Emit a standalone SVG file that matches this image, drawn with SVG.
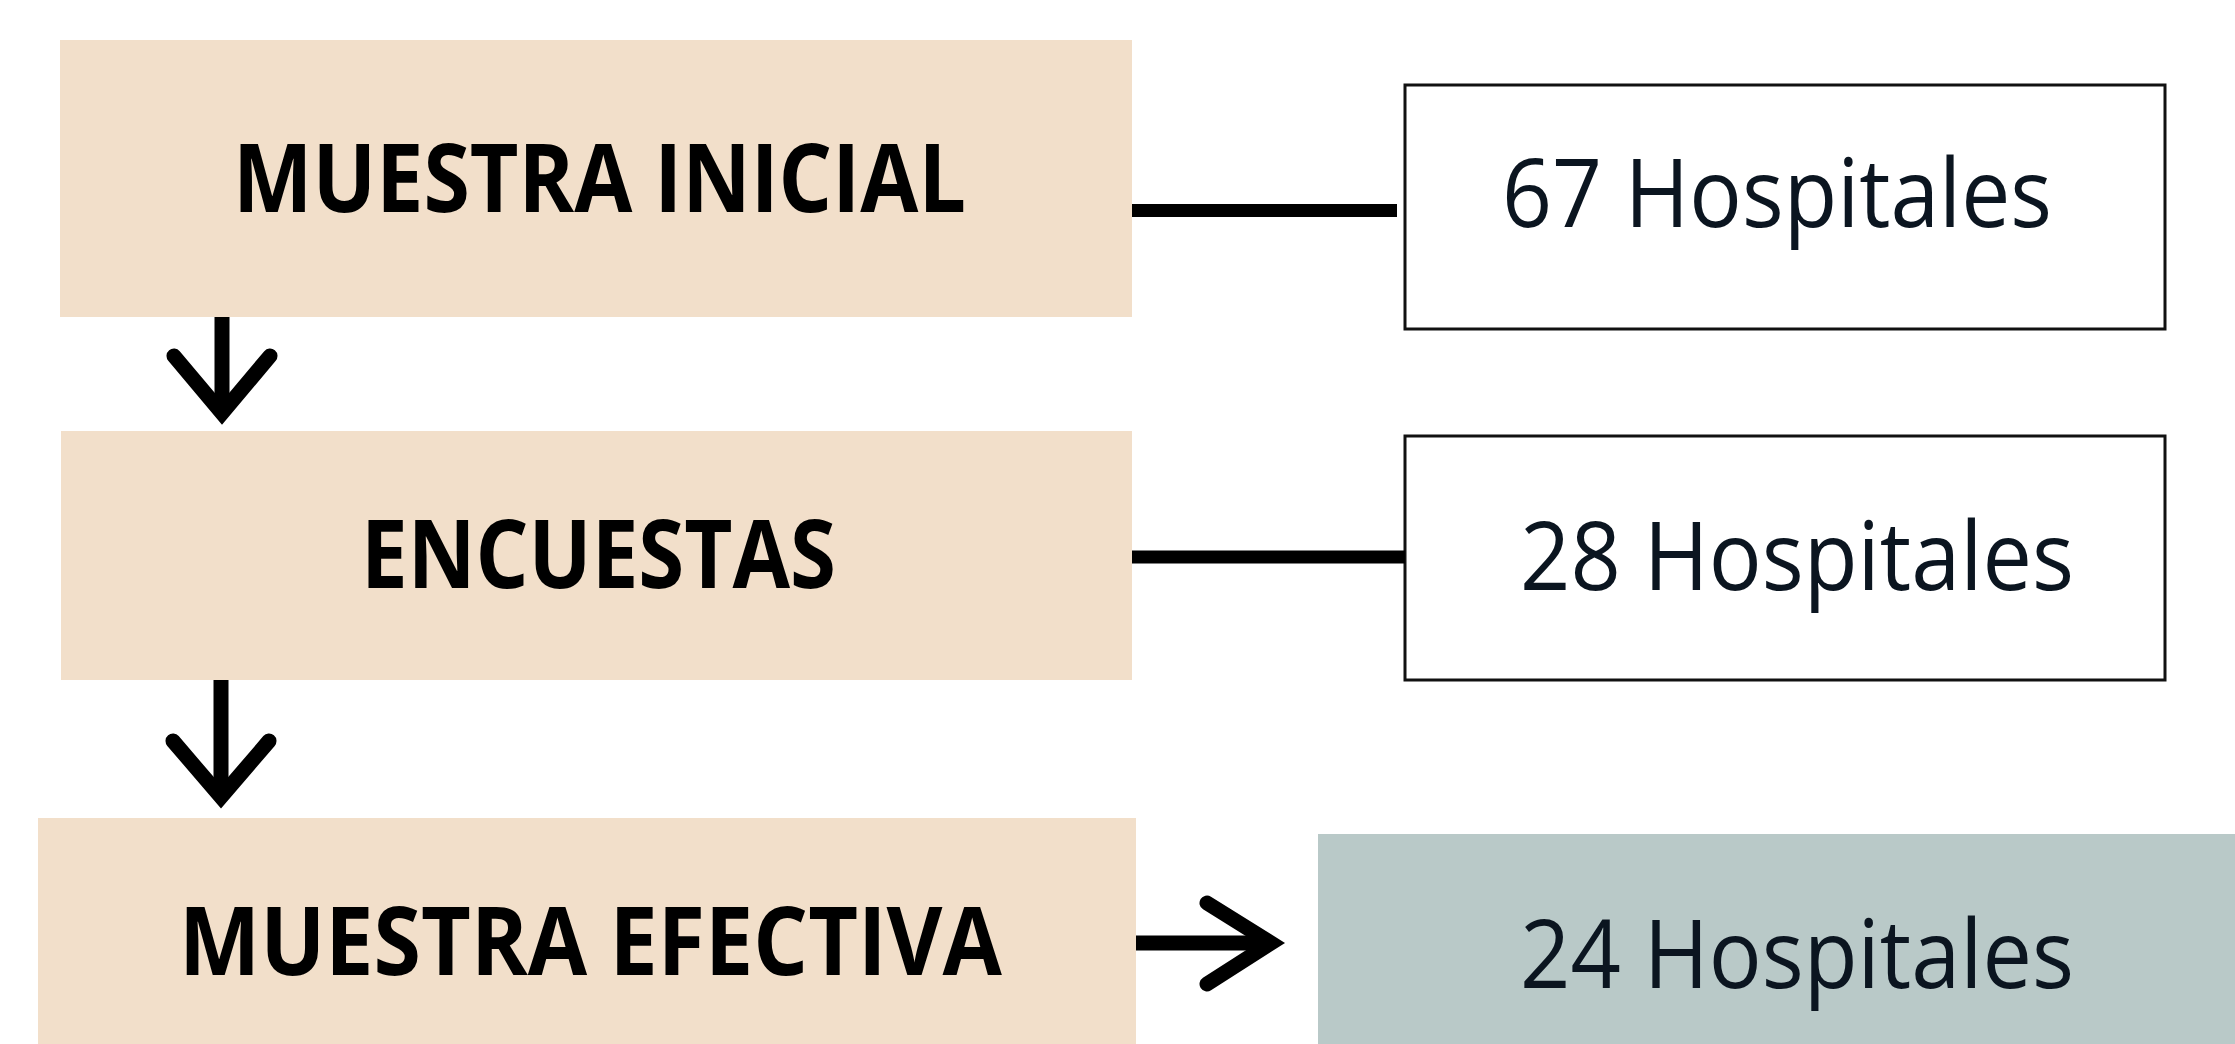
<svg xmlns="http://www.w3.org/2000/svg" width="2235" height="1044" viewBox="0 0 2235 1044">
<style>
.stage{fill:#f2dfca}
.count{fill:#ffffff;stroke:#111111;stroke-width:3}
.result{fill:#b9c9c8}
.lbl{font-family:"Open Sans","Noto Sans","Liberation Sans",sans-serif;font-weight:700;font-size:95px;fill:#000000}
.num{font-family:"Open Sans","Noto Sans","Liberation Sans",sans-serif;font-weight:400;font-size:95px;fill:#0b1520}
.ln{stroke:#000000;fill:none;stroke-width:13}
.ar{stroke:#000000;fill:none;stroke-width:15;stroke-linejoin:miter;stroke-linecap:round}
</style>
<rect width="2235" height="1044" fill="#ffffff"/>
<g id="node-muestra-inicial">
<rect class="stage" x="60" y="40" width="1072" height="277"/>
<text class="lbl" x="233" y="212" textLength="733" lengthAdjust="spacingAndGlyphs">MUESTRA INICIAL</text>
</g>
<g id="node-encuestas">
<rect class="stage" x="61" y="431" width="1071" height="249"/>
<text class="lbl" x="361" y="588" textLength="475" lengthAdjust="spacingAndGlyphs">ENCUESTAS</text>
</g>
<g id="node-muestra-efectiva">
<rect class="stage" x="38" y="818" width="1098" height="226"/>
<text class="lbl" x="179" y="975" textLength="823" lengthAdjust="spacingAndGlyphs">MUESTRA EFECTIVA</text>
</g>
<g id="node-67">
<rect class="count" x="1405" y="85" width="760" height="244"/>
<text class="num" x="1502" y="227" textLength="550" lengthAdjust="spacingAndGlyphs">67 Hospitales</text>
</g>
<g id="node-28">
<rect class="count" x="1405" y="436" width="760" height="244"/>
<text class="num" x="1520" y="590" textLength="554" lengthAdjust="spacingAndGlyphs">28 Hospitales</text>
</g>
<g id="node-24">
<rect class="result" x="1318" y="834" width="917" height="210"/>
<text class="num" x="1520" y="988" textLength="554" lengthAdjust="spacingAndGlyphs">24 Hospitales</text>
</g>
<g id="connectors">
<line class="ln" x1="1132" y1="210.5" x2="1397" y2="210.5"/>
<line class="ln" x1="1132" y1="557" x2="1405" y2="557"/>
<line class="ar" x1="222" y1="317" x2="222" y2="412" style="stroke-linecap:butt"/>
<polyline class="ar" points="174,356 222,413 270,356"/>
<line class="ar" x1="221" y1="680" x2="221" y2="796" style="stroke-linecap:butt"/>
<polyline class="ar" points="173,741 221,797 269,741"/>
<line class="ar" x1="1136" y1="943" x2="1270" y2="943" style="stroke-linecap:butt"/>
<polyline class="ar" points="1207,903 1271,943 1207,984"/>
</g>
</svg>
